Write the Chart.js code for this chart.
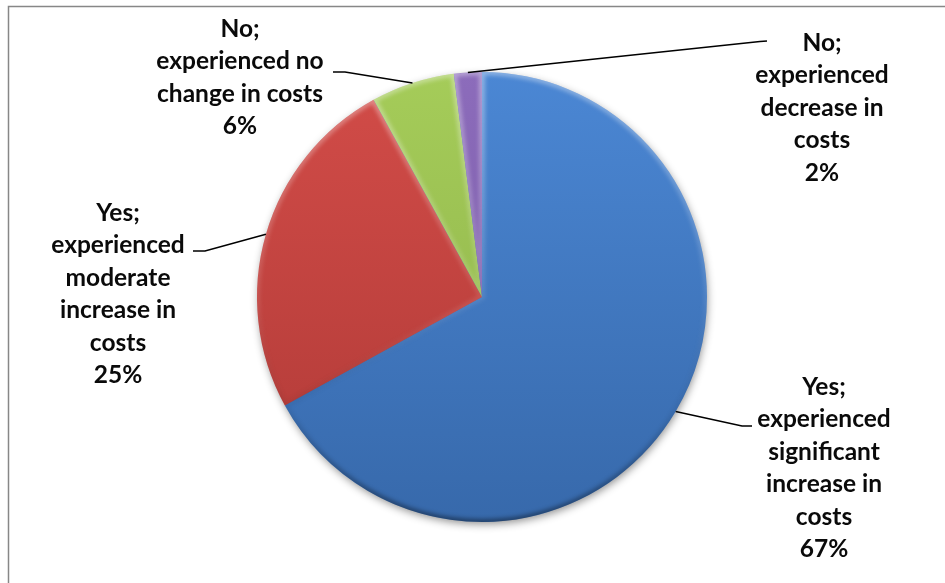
<!DOCTYPE html>
<html>
<head>
<meta charset="utf-8">
<script src="https://cdn.jsdelivr.net/npm/chart.js@4"></script>
<style>
  html, body { margin: 0; padding: 0; background: #fff; }
  #wrap { width: 945px; height: 583px; }
</style>
</head>
<body>
<div id="wrap"><canvas id="costs-chart" width="945" height="583"></canvas></div>
<script>
// slices, clockwise from 12 o'clock
const categories = [
  ['Yes;', 'experienced', 'significant', 'increase in', 'costs'],
  ['Yes;', 'experienced', 'moderate', 'increase in', 'costs'],
  ['No;', 'experienced no', 'change in costs'],
  ['No;', 'experienced', 'decrease in', 'costs']
];
const shares = [67, 25, 6, 2];

// top / bottom shade of each slice
const topColors = ['#4b87d4', '#d24c48', '#a5cc59', '#8c6cbb'];
const bottomColors = ['#3769ab', '#b03a37', '#8cb049', '#7657a3'];

// label block (center x, middle of first line) and leader bend + end
const labelSpots = [
  { x: 824, y: 387, bend: [742, 426], end: [752, 426] },
  { x: 118, y: 213, bend: [205, 251], end: [193, 251] },
  { x: 240, y: 29, bend: [345, 72], end: [333, 72] },
  { x: 822, y: 43, bend: [760, 41.5], end: [767, 41] }
];

const LABEL_FONT = 'bold 24.5px Lato, "Open Sans", sans-serif';
const LINE_H = 32.5;

function sliceFill(ctx) {
  const area = ctx.chart.chartArea;
  if (!area) return topColors[ctx.dataIndex];
  const g = ctx.chart.ctx.createLinearGradient(0, area.top, 0, area.bottom);
  g.addColorStop(0, topColors[ctx.dataIndex]);
  g.addColorStop(1, bottomColors[ctx.dataIndex]);
  return g;
}

function arcPath(ctx, a) {
  ctx.beginPath();
  ctx.moveTo(a.x, a.y);
  ctx.arc(a.x, a.y, a.outerRadius, a.startAngle, a.endAngle);
  ctx.closePath();
}

// grey frame round the plot
const framePlugin = {
  id: 'frame',
  beforeDraw(chart) {
    const ctx = chart.ctx;
    ctx.save();
    ctx.strokeStyle = '#878787';
    ctx.lineWidth = 1.5;
    ctx.strokeRect(8.5, 6.5, 1000, 1000);
    ctx.restore();
  }
};

// soft drop shadow under the whole pie
const shadowPlugin = {
  id: 'pieShadow',
  beforeDatasetsDraw(chart) {
    const a = chart.getDatasetMeta(0).data[0];
    if (!a) return;
    const ctx = chart.ctx;
    ctx.save();
    ctx.shadowColor = 'rgba(0,0,0,0.45)';
    ctx.shadowBlur = 9;
    ctx.shadowOffsetX = 1;
    ctx.shadowOffsetY = 3;
    ctx.fillStyle = '#3769ab';
    ctx.beginPath();
    ctx.arc(a.x, a.y, a.outerRadius - 1, 0, Math.PI * 2);
    ctx.fill();
    ctx.restore();
  }
};

// bevel: light rim on top edges, dark rim on bottom edges
const bevelPlugin = {
  id: 'bevel',
  afterDatasetsDraw(chart) {
    const ctx = chart.ctx;
    const area = chart.chartArea;
    chart.getDatasetMeta(0).data.forEach(a => {
      ctx.save();
      arcPath(ctx, a);
      ctx.clip();
      const g = ctx.createLinearGradient(0, area.top, 0, area.bottom);
      g.addColorStop(0, 'rgba(255,255,255,0.38)');
      g.addColorStop(0.5, 'rgba(255,255,255,0.1)');
      g.addColorStop(0.75, 'rgba(0,0,0,0.06)');
      g.addColorStop(1, 'rgba(0,0,0,0.4)');
      ctx.filter = 'blur(2px)';
      ctx.strokeStyle = g;
      ctx.lineWidth = 6;
      arcPath(ctx, a);
      ctx.stroke();
      ctx.restore();
    });
  }
};

// outside labels with leader lines
const labelPlugin = {
  id: 'outsideLabels',
  afterDraw(chart) {
    const ctx = chart.ctx;
    const arcs = chart.getDatasetMeta(0).data;
    ctx.save();
    ctx.strokeStyle = '#000';
    ctx.lineWidth = 1.5;
    arcs.forEach((a, i) => {
      const spot = labelSpots[i];
      const mid = (a.startAngle + a.endAngle) / 2;
      ctx.beginPath();
      ctx.moveTo(a.x + Math.cos(mid) * a.outerRadius, a.y + Math.sin(mid) * a.outerRadius);
      ctx.lineTo(spot.bend[0], spot.bend[1]);
      ctx.lineTo(spot.end[0], spot.end[1]);
      ctx.stroke();
    });
    ctx.font = LABEL_FONT;
    ctx.fillStyle = '#0a0a0a';
    ctx.textAlign = 'center';
    ctx.textBaseline = 'middle';
    categories.forEach((lines, i) => {
      const spot = labelSpots[i];
      lines.concat(shares[i] + '%').forEach((t, k) => {
        ctx.fillText(t, spot.x, spot.y + k * LINE_H);
      });
    });
    ctx.restore();
  }
};

const costsChart = new Chart(document.getElementById('costs-chart'), {
  type: 'pie',
  data: {
    labels: categories,
    datasets: [{
      data: shares,
      backgroundColor: sliceFill,
      borderWidth: 0
    }]
  },
  options: {
    responsive: false,
    animation: false,
    layout: { padding: { left: 257, right: 238, top: 72, bottom: 61 } },
    plugins: {
      legend: { display: false },
      tooltip: { enabled: false }
    }
  },
  plugins: [framePlugin, shadowPlugin, bevelPlugin, labelPlugin]
});
</script>
</body>
</html>
